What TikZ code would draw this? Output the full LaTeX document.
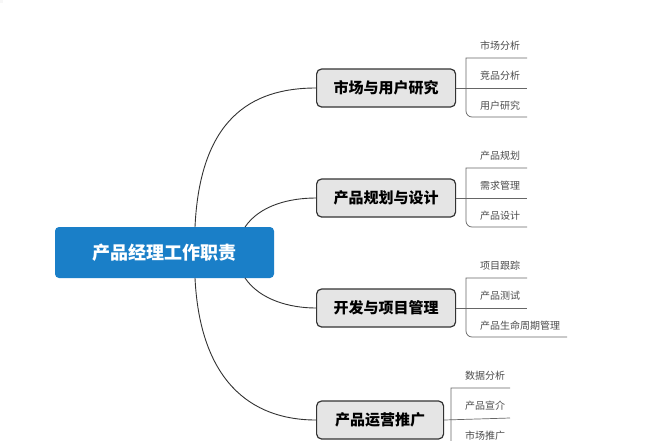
\documentclass[tikz,border=0pt]{standalone}
\usepackage{fontspec}
\setmainfont{Noto Sans CJK SC}
\begin{document}
\begin{tikzpicture}[x=1pt,y=-1pt,
 topic/.style={draw=black!80,line width=1.2pt,fill=black!10,rounded corners=5pt,minimum height=38pt,font=\fontsize{15}{18}\selectfont\bfseries,anchor=west,inner xsep=8pt},
 leaf/.style={font=\fontsize{10}{12}\selectfont,text=black!70,anchor=west,inner sep=0pt},
 ln/.style={draw=black!60,line width=0.7pt},
 cv/.style={draw=black!80,line width=0.9pt}]
\useasboundingbox[fill=white] (0,0) rectangle (646,440);
\node[fill=black!3!white,draw=none] (bg) at (0,0) {};
\node[fill={rgb,255:red,26;green,127;blue,200},rounded corners=4pt,minimum width=219pt,minimum height=51pt,text=white,font=\fontsize{18}{22}\selectfont\bfseries] (root) at (164.5,252.5) {产品经理工作职责};
\node[topic,minimum width=139pt] (t1) at (316,88) {市场与用户研究};
\node[topic,minimum width=139pt] (t2) at (316,198) {产品规划与设计};
\node[topic,minimum width=139pt] (t3) at (316,308) {开发与项目管理};
\node[topic,minimum width=127pt] (t4) at (316,420) {产品运营推广};
\coordinate (r1) at (195,227); \coordinate (r2) at (245,227);
\coordinate (r3) at (245,278); \coordinate (r4) at (195,278);
\draw[cv] (r1) .. controls (200,120) and (250,88) .. (t1.west);
\draw[cv] (r2) .. controls (260,205) and (290,198) .. (t2.west);
\draw[cv] (r3) .. controls (260,300) and (290,308) .. (t3.west);
\draw[cv] (r4) .. controls (200,380) and (250,420) .. (t4.west);
% groups
\foreach \t/\yc/\bx/\ex/\la/\lb/\lc/\ec in {
 t1/88/466/527/市场分析/竞品分析/用户研究/527,
 t2/198/466/527/产品规划/需求管理/产品设计/527,
 t3/308/466/527/项目跟踪/产品测试/产品生命周期管理/567,
 t4/418/451/510/数据分析/产品宣介/市场推广/510}{
 \coordinate (a) at (\bx,\yc-30); \coordinate (ae) at (\ex,\yc-30);
 \coordinate (c) at (\bx,\yc+29); \coordinate (ce) at (\ec,\yc+29);
 \coordinate (be) at (\ex,\yc);
 \draw[ln] (ae) -- (a) [rounded corners=6pt]-- (\bx,\yc) -- (c) -- (ce);
 \draw[ln] (\t.east) -- (be);
 \node[leaf] at (\bx+14,\yc-42) {\la};
 \node[leaf] at (\bx+14,\yc-12) {\lb};
 \node[leaf] at (\bx+14,\yc+18) {\lc};
}
\end{tikzpicture}
\end{document}
